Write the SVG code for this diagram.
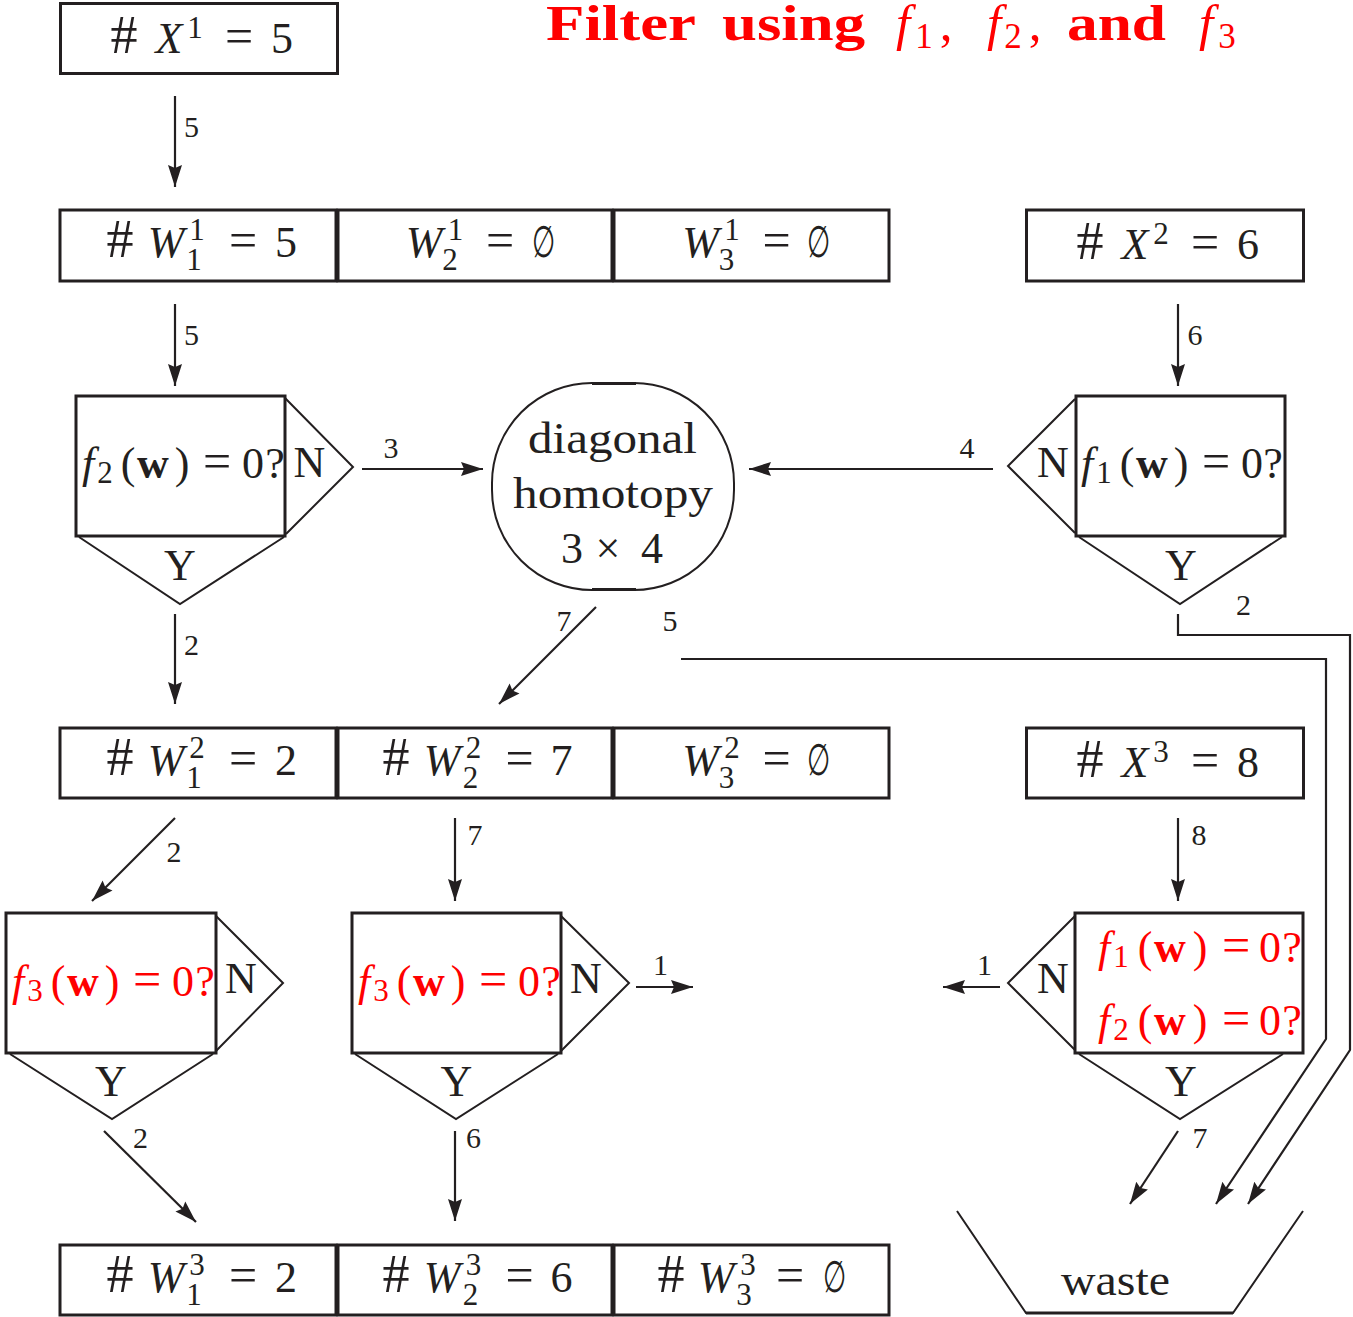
<svg xmlns="http://www.w3.org/2000/svg" width="1353" height="1317" viewBox="0 0 1353 1317">
<style>
.box{fill:none;stroke:#231f20;stroke-width:3}
.tri{fill:none;stroke:#231f20;stroke-width:2}
.con{fill:none;stroke:#231f20;stroke-width:2.2}
.m{font-family:"Liberation Serif","DejaVu Serif",serif;font-size:44px;fill:#231f20;text-anchor:middle}
.i{font-style:italic}
.b{font-weight:bold}
.s{font-size:31px}
.h{font-size:54px}
.e{font-size:50px}
.z{font-family:"DejaVu Serif","Liberation Serif",serif;font-size:44px;fill:#231f20}
.lbl{font-family:"Liberation Serif","DejaVu Serif",serif;font-size:30px;fill:#231f20;text-anchor:middle}
.red{fill:#ff0000}
.t{font-family:"Liberation Serif","DejaVu Serif",serif;font-size:51px;fill:#ff0000}
</style>
<defs>
<marker id="ah" markerUnits="userSpaceOnUse" markerWidth="24" markerHeight="16" refX="22" refY="8" orient="auto">
<path d="M0,1 L22,8 L0,15 L3,8 z" fill="#231f20"/>
</marker>
</defs>

<g id="title">
<text class="t b" x="546" y="40" textLength="150" lengthAdjust="spacingAndGlyphs">Filter</text>
<text class="t b" x="722" y="40" textLength="143" lengthAdjust="spacingAndGlyphs">using</text>
<text class="t" text-anchor="middle"><tspan class="i" x="903" y="40">f</tspan><tspan x="924" y="48" font-size="35">1</tspan><tspan x="946" y="40">,</tspan><tspan class="i" x="994" y="40">f</tspan><tspan x="1013" y="48" font-size="35">2</tspan><tspan x="1035" y="40">,</tspan><tspan class="i" x="1206" y="40">f</tspan><tspan x="1227" y="48" font-size="35">3</tspan></text>
<text class="t b" x="1067" y="40" textLength="99" lengthAdjust="spacingAndGlyphs">and</text>
</g>

<g id="X1">
<rect class="box" x="60.5" y="3.5" width="277" height="70"/>
<text class="m"><tspan class="h" x="124" y="53">#</tspan><tspan class="i" x="169" y="53">X</tspan><tspan class="s" x="195" y="38">1</tspan><tspan class="e" x="239" y="53">=</tspan><tspan x="282" y="53">5</tspan></text>
</g>

<g id="W11">
<rect class="box" x="60" y="210" width="276" height="71"/>
<text class="m"><tspan class="h" x="120" y="257">#</tspan><tspan class="i" x="166" y="257">W</tspan><tspan class="s" x="197" y="240">1</tspan><tspan class="s" x="194" y="270">1</tspan><tspan class="e" x="243" y="257">=</tspan><tspan x="286" y="257">5</tspan></text>
</g>
<g id="W21">
<rect class="box" x="338" y="210" width="274" height="71"/>
<text class="m"><tspan class="i" x="424" y="257">W</tspan><tspan class="s" x="455.5" y="240">1</tspan><tspan class="s" x="450" y="270">2</tspan><tspan class="e" x="500" y="257">=</tspan></text>
<text class="z" x="532" y="257" textLength="23" lengthAdjust="spacingAndGlyphs">∅</text>
</g>
<g id="W31">
<rect class="box" x="614" y="210" width="275" height="71"/>
<text class="m"><tspan class="i" x="700.5" y="257">W</tspan><tspan class="s" x="732" y="240">1</tspan><tspan class="s" x="726.5" y="270">3</tspan><tspan class="e" x="776.5" y="257">=</tspan></text>
<text class="z" x="807" y="257" textLength="23" lengthAdjust="spacingAndGlyphs">∅</text>
</g>

<g id="X2">
<rect class="box" x="1026.5" y="210" width="277" height="71"/>
<text class="m"><tspan class="h" x="1090" y="259">#</tspan><tspan class="i" x="1135" y="259">X</tspan><tspan class="s" x="1161" y="244">2</tspan><tspan class="e" x="1205" y="259">=</tspan><tspan x="1248" y="259">6</tspan></text>
</g>

<g id="D1">
<rect class="box" x="76" y="396" width="209" height="140"/>
<polyline class="tri" points="285,398 353,467 286,534"/>
<polyline class="tri" points="79,537 180,604 284,537"/>
<text class="m"><tspan class="i" x="88" y="478">f</tspan><tspan class="s" x="105" y="483">2</tspan><tspan x="128" y="478">(</tspan><tspan class="b" x="153" y="478">w</tspan><tspan x="182" y="478">)</tspan><tspan class="e" x="217" y="478">=</tspan><tspan x="253" y="478">0</tspan><tspan x="275" y="478">?</tspan></text>
<text class="m" x="309.5" y="477">N</text>
<text class="m" x="180" y="580">Y</text>
</g>

<g id="homotopy">
<rect class="tri" x="492" y="383" width="242" height="207" rx="100" ry="100"/>
<line class="box" x1="592" y1="383.5" x2="636" y2="383.5"/>
<line class="box" x1="592" y1="589.5" x2="636" y2="589.5"/>
<text class="m" x="612.5" y="453" textLength="169" lengthAdjust="spacingAndGlyphs">diagonal</text>
<text class="m" x="613" y="508" textLength="200" lengthAdjust="spacingAndGlyphs">homotopy</text>
<text class="m"><tspan x="572" y="563">3</tspan><tspan x="608" y="563">×</tspan><tspan x="652" y="563">4</tspan></text>
</g>

<g id="D2">
<rect class="box" x="1076" y="396" width="209" height="140"/>
<polyline class="tri" points="1075,399 1008,466 1075,533"/>
<polyline class="tri" points="1079,537 1180,604 1282,537"/>
<text class="m"><tspan class="i" x="1087" y="478">f</tspan><tspan class="s" x="1104" y="483">1</tspan><tspan x="1127" y="478">(</tspan><tspan class="b" x="1152" y="478">w</tspan><tspan x="1181" y="478">)</tspan><tspan class="e" x="1216" y="478">=</tspan><tspan x="1252" y="478">0</tspan><tspan x="1273" y="478">?</tspan></text>
<text class="m" x="1053" y="477">N</text>
<text class="m" x="1181" y="580">Y</text>
</g>

<g id="W12">
<rect class="box" x="60" y="728" width="276" height="70"/>
<text class="m"><tspan class="h" x="120" y="775">#</tspan><tspan class="i" x="166" y="775">W</tspan><tspan class="s" x="197" y="758">2</tspan><tspan class="s" x="194" y="788">1</tspan><tspan class="e" x="243" y="775">=</tspan><tspan x="286" y="775">2</tspan></text>
</g>
<g id="W22">
<rect class="box" x="338" y="728" width="274" height="70"/>
<text class="m"><tspan class="h" x="396" y="775">#</tspan><tspan class="i" x="442" y="775">W</tspan><tspan class="s" x="473.5" y="758">2</tspan><tspan class="s" x="470.5" y="788">2</tspan><tspan class="e" x="519.5" y="775">=</tspan><tspan x="561.5" y="775">7</tspan></text>
</g>
<g id="W32">
<rect class="box" x="614" y="728" width="275" height="70"/>
<text class="m"><tspan class="i" x="700.5" y="775">W</tspan><tspan class="s" x="732" y="758">2</tspan><tspan class="s" x="726.5" y="788">3</tspan><tspan class="e" x="776.5" y="775">=</tspan></text>
<text class="z" x="807" y="775" textLength="23" lengthAdjust="spacingAndGlyphs">∅</text>
</g>

<g id="X3">
<rect class="box" x="1026.5" y="728" width="277" height="70"/>
<text class="m"><tspan class="h" x="1090" y="777">#</tspan><tspan class="i" x="1135" y="777">X</tspan><tspan class="s" x="1161" y="762">3</tspan><tspan class="e" x="1205" y="777">=</tspan><tspan x="1248" y="777">8</tspan></text>
</g>

<g id="D3">
<rect class="box" x="6" y="913" width="210" height="140"/>
<polyline class="tri" points="216,916 283,983 216,1051"/>
<polyline class="tri" points="10,1054 112,1119 213,1054"/>
<text class="m red"><tspan class="i" x="18" y="996">f</tspan><tspan class="s" x="35" y="1001">3</tspan><tspan x="58" y="996">(</tspan><tspan class="b" x="83" y="996">w</tspan><tspan x="112" y="996">)</tspan><tspan class="e" x="147" y="996">=</tspan><tspan x="183" y="996">0</tspan><tspan x="205" y="996">?</tspan></text>
<text class="m" x="241" y="993">N</text>
<text class="m" x="111" y="1096">Y</text>
</g>

<g id="D4">
<rect class="box" x="352" y="913" width="209" height="140"/>
<polyline class="tri" points="561,916 629,983 561,1051"/>
<polyline class="tri" points="355,1054 456,1119 558,1054"/>
<text class="m red"><tspan class="i" x="364" y="996">f</tspan><tspan class="s" x="381" y="1001">3</tspan><tspan x="404" y="996">(</tspan><tspan class="b" x="429" y="996">w</tspan><tspan x="458" y="996">)</tspan><tspan class="e" x="493" y="996">=</tspan><tspan x="529" y="996">0</tspan><tspan x="551" y="996">?</tspan></text>
<text class="m" x="586" y="993">N</text>
<text class="m" x="456.5" y="1096">Y</text>
</g>

<g id="D5">
<rect class="box" x="1075" y="913" width="228" height="140"/>
<polyline class="tri" points="1075,916 1008,983 1075,1050"/>
<polyline class="tri" points="1079,1054 1180,1119 1283,1054"/>
<text class="m red"><tspan class="i" x="1104" y="962">f</tspan><tspan class="s" x="1121" y="967">1</tspan><tspan x="1145" y="962">(</tspan><tspan class="b" x="1170" y="962">w</tspan><tspan x="1200" y="962">)</tspan><tspan class="e" x="1236" y="962">=</tspan><tspan x="1270" y="962">0</tspan><tspan x="1292" y="962">?</tspan></text>
<text class="m red"><tspan class="i" x="1104" y="1035">f</tspan><tspan class="s" x="1121" y="1040">2</tspan><tspan x="1145" y="1035">(</tspan><tspan class="b" x="1170" y="1035">w</tspan><tspan x="1200" y="1035">)</tspan><tspan class="e" x="1236" y="1035">=</tspan><tspan x="1270" y="1035">0</tspan><tspan x="1292" y="1035">?</tspan></text>
<text class="m" x="1053" y="993">N</text>
<text class="m" x="1181" y="1096">Y</text>
</g>

<g id="W13">
<rect class="box" x="60" y="1245" width="276" height="70"/>
<text class="m"><tspan class="h" x="120" y="1292">#</tspan><tspan class="i" x="166" y="1292">W</tspan><tspan class="s" x="197" y="1275">3</tspan><tspan class="s" x="194" y="1305">1</tspan><tspan class="e" x="243" y="1292">=</tspan><tspan x="286" y="1292">2</tspan></text>
</g>
<g id="W23">
<rect class="box" x="338" y="1245" width="274" height="70"/>
<text class="m"><tspan class="h" x="396" y="1292">#</tspan><tspan class="i" x="442" y="1292">W</tspan><tspan class="s" x="473.5" y="1275">3</tspan><tspan class="s" x="470.5" y="1305">2</tspan><tspan class="e" x="519.5" y="1292">=</tspan><tspan x="561.5" y="1292">6</tspan></text>
</g>
<g id="W33">
<rect class="box" x="614" y="1245" width="275" height="70"/>
<text class="m"><tspan class="h" x="671" y="1292">#</tspan><tspan class="i" x="716" y="1292">W</tspan><tspan class="s" x="748" y="1275">3</tspan><tspan class="s" x="744" y="1305">3</tspan><tspan class="e" x="790" y="1292">=</tspan></text>
<text class="z" x="823" y="1292" textLength="23" lengthAdjust="spacingAndGlyphs">∅</text>
</g>

<g id="waste">
<polyline class="tri" points="957,1211 1026,1313 1233,1313 1303,1211"/>
<line class="box" x1="1026" y1="1313" x2="1233" y2="1313"/>
<text class="m" x="1115.5" y="1295" font-size="42" textLength="109" lengthAdjust="spacingAndGlyphs">waste</text>
</g>

<g id="connectors">
<g class="con" marker-end="url(#ah)">
<line x1="175" y1="96" x2="175" y2="187"/>
<line x1="175" y1="304" x2="175" y2="386"/>
<line x1="1178" y1="304" x2="1178" y2="386"/>
<line x1="362" y1="469" x2="483" y2="469"/>
<line x1="993" y1="469" x2="749" y2="469"/>
<line x1="596" y1="607" x2="499" y2="704"/>
<line x1="175" y1="614" x2="175" y2="704"/>
<polyline points="1178,614 1178,635 1350,635 1350,1050 1248,1204"/>
<polyline points="681,659 1326,659 1326,1039 1216,1204"/>
<line x1="175" y1="818" x2="92" y2="901"/>
<line x1="455" y1="818" x2="455" y2="901"/>
<line x1="1178" y1="818" x2="1178" y2="901"/>
<line x1="636" y1="987" x2="693" y2="987"/>
<line x1="1000" y1="987" x2="943" y2="987"/>
<line x1="104" y1="1131" x2="196" y2="1222"/>
<line x1="455" y1="1131" x2="455" y2="1221"/>
<line x1="1178" y1="1131" x2="1130" y2="1204"/>
</g>
<g class="lbl">
<text x="191.5" y="137">5</text>
<text x="191.5" y="345">5</text>
<text x="1195" y="345">6</text>
<text x="391" y="458">3</text>
<text x="967" y="458">4</text>
<text x="191.5" y="655">2</text>
<text x="564" y="631">7</text>
<text x="670" y="631">5</text>
<text x="1243.5" y="615">2</text>
<text x="174" y="862">2</text>
<text x="475" y="845">7</text>
<text x="1199" y="845">8</text>
<text x="660.5" y="975">1</text>
<text x="984.5" y="975">1</text>
<text x="140.5" y="1148">2</text>
<text x="473.5" y="1148">6</text>
<text x="1200" y="1148">7</text>
</g>
</g>
</svg>
